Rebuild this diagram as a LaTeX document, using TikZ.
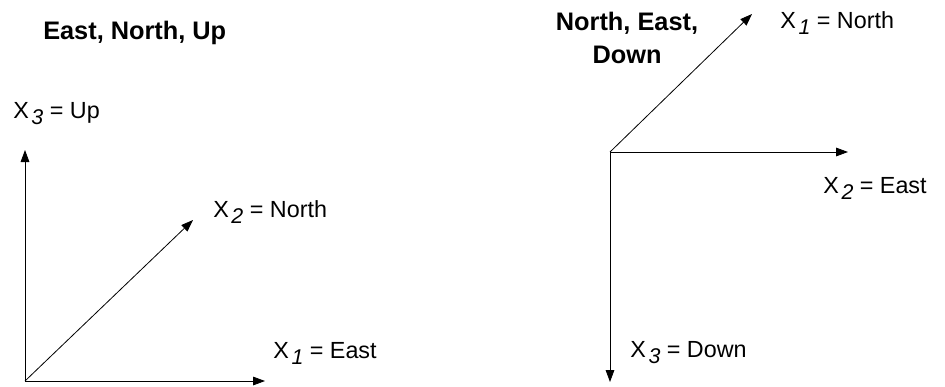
\documentclass[tikz,border=0pt]{standalone}
\usepackage{fontspec}
\setmainfont{Liberation Sans}
\usepackage{xcolor}
\usetikzlibrary{calc,arrows.meta,positioning}
\definecolor{axisInk}{RGB}{0,0,0}
\newcommand{\Xsub}[1]{X\hspace{2pt}\raisebox{-5pt}{\fontsize{16}{17}\selectfont\itshape #1}}
\tikzset{
  axisline/.style={draw=axisInk,line width=.6pt,-{Triangle[length=9pt,width=6.5pt]}},
  axislabel/.style={anchor=base west,inner sep=0pt,font=\fontsize{17.5}{19}\selectfont},
  frametitle/.style={inner sep=0pt,align=center,font=\fontsize{19}{24.75}\selectfont\bfseries}
}

\begin{document}
\begin{tikzpicture}[x=0.75pt,y=-0.75pt]
\useasboundingbox (0,0) rectangle (945,386);
% East, North, Up
\coordinate (enuO) at (25,381);
\coordinate (enuE) at (265,381);
\coordinate (enuN) at (193,220);
\coordinate (enuU) at (25,150);
\node[frametitle,anchor=base west] (enuTitle) at (43,39) {East, North, Up};
\draw[axisline] (enuO) -- (enuE);
\draw[axisline] (enuO) -- (enuN);
\draw[axisline] (enuO) -- (enuU);
\node[axislabel] (enuLabE) at (273,358) {\Xsub{1} = East};
\node[axislabel] (enuLabN) at (213,217) {\Xsub{2} = North};
\node[axislabel] (enuLabU) at (13,118) {\Xsub{3} = Up};
% North, East, Down (base of a two-line node is its last line)
\coordinate (nedO) at (610,152);
\coordinate (nedN) at (752,14);
\coordinate (nedE) at (848,152);
\coordinate (nedD) at (610,382);
\node[frametitle,anchor=base] (nedTitle) at (627,63) {North, East,\\Down};
\draw[axisline] (nedO) -- (nedN);
\draw[axisline] (nedO) -- (nedE);
\draw[axisline] (nedO) -- (nedD);
\node[axislabel] (nedLabN) at (780,28) {\Xsub{1} = North};
\node[axislabel] (nedLabE) at (823,193) {\Xsub{2} = East};
\node[axislabel] (nedLabD) at (630,357) {\Xsub{3} = Down};
\end{tikzpicture}
\end{document}
